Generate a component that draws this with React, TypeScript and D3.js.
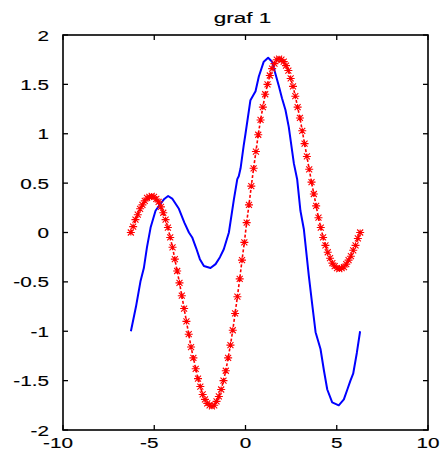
import * as d3 from 'd3';
import { useEffect, useRef } from 'react';

// red series: 100 samples from -2pi to 2pi
const redY = [
  0, 0.06, 0.13, 0.18, 0.24, 0.28, 0.32, 0.35, 0.36, 0.37, 0.36, 0.34, 0.31, 0.26, 0.2, 0.13, 0.05, -0.05, -0.15, -0.27,
  -0.39, -0.51, -0.64, -0.77, -0.9, -1.03, -1.16, -1.27, -1.38, -1.48, -1.56, -1.64, -1.69, -1.73, -1.75, -1.76, -1.75, -1.71, -1.66, -1.59,
  -1.5, -1.4, -1.27, -1.14, -0.99, -0.82, -0.65, -0.47, -0.28, -0.1,
  0.1, 0.28, 0.47, 0.65, 0.82, 0.99, 1.14, 1.27, 1.4, 1.5, 1.59, 1.66, 1.71, 1.75, 1.76, 1.75, 1.73, 1.69, 1.64, 1.56,
  1.48, 1.38, 1.27, 1.16, 1.03, 0.9, 0.77, 0.64, 0.51, 0.39, 0.27, 0.15, 0.05, -0.05, -0.13, -0.2, -0.26, -0.31, -0.34, -0.36,
  -0.37, -0.36, -0.35, -0.32, -0.28, -0.24, -0.18, -0.13, -0.06, 0,
];
const redRange = [-6.2832, 6.2832];

// blue series
const blueX = [
  -6.28, -6.0, -5.75, -5.57, -5.4, -5.2, -4.93, -4.66, -4.45, -4.24, -4.0, -3.65, -3.35, -3.1, -2.92, -2.7, -2.5, -2.28, -1.92, -1.64,
  -1.4, -1.19, -0.91, -0.64, -0.45, -0.37, -0.27, -0.1, 0, 0.27, 0.55, 0.73, 1.0, 1.24, 1.46, 1.65, 1.83, 2.0, 2.19, 2.37,
  2.65, 2.83, 3.01, 3.2, 3.47, 3.65, 3.84, 4.11, 4.3, 4.48, 4.75, 5.11, 5.39, 5.6, 5.75, 5.9, 6.1, 6.28,
];
const blueY = [
  -1.0, -0.75, -0.49, -0.36, -0.15, 0.05, 0.22, 0.29, 0.34, 0.37, 0.34, 0.24, 0.1, 0.0, -0.05, -0.16, -0.27, -0.34, -0.36, -0.32,
  -0.25, -0.17, 0.0, 0.33, 0.54, 0.57, 0.65, 0.88, 1.0, 1.34, 1.43, 1.58, 1.73, 1.77, 1.73, 1.6, 1.48, 1.36, 1.24, 1.07,
  0.7, 0.54, 0.22, 0.03, -0.44, -0.72, -1.01, -1.18, -1.4, -1.59, -1.72, -1.75, -1.69, -1.58, -1.5, -1.43, -1.22, -1.0,
];

const xTicks = [-10, -5, 0, 5, 10];
const yTicks = [-2, -1.5, -1, -0.5, 0, 0.5, 1, 1.5, 2];
const title = 'graf 1';

const W = 444;
const H = 454;
const font = '"Liberation Sans", Arial, sans-serif';
const stretch = 1.38; // the reference text is drawn wide

const App = () => {
  const svgRef = useRef<SVGSVGElement>(null);

  useEffect(() => {
    const svg = d3.select(svgRef.current);
    svg.selectAll('*').remove();

    const left = 63;
    const right = 428;
    const top = 35;
    const bottom = 430;

    const x = d3.scaleLinear([-10, 10], [left, right]);
    const y = d3.scaleLinear([-2, 2], [bottom, top]);
    const idx = d3.scaleLinear([0, redY.length - 1], redRange);

    svg.append('rect').attr('width', W).attr('height', H).attr('fill', '#fff');

    // blue line
    const blueLine = d3
      .line<number>()
      .x((i) => x(blueX[i]))
      .y((i) => y(blueY[i]));
    svg
      .append('path')
      .attr('d', blueLine(d3.range(blueX.length)))
      .attr('fill', 'none')
      .attr('stroke', '#0000ff')
      .attr('stroke-width', 2)
      .attr('stroke-linejoin', 'round');

    // red dashed line with stars
    const redLine = d3
      .line<number>()
      .x((i) => x(idx(i)))
      .y((i) => y(redY[i]));
    svg
      .append('path')
      .attr('d', redLine(d3.range(redY.length)))
      .attr('fill', 'none')
      .attr('stroke', '#ff0000')
      .attr('stroke-width', 1.6)
      .attr('stroke-dasharray', '3,2');

    const star = 'M-4,0H4M0,-3V3M-3,-3L3,3M-3,3L3,-3';
    svg
      .append('g')
      .selectAll('path')
      .data(d3.range(redY.length))
      .join('path')
      .attr('transform', (i) => `translate(${x(idx(i))},${y(redY[i])})`)
      .attr('d', star)
      .attr('fill', 'none')
      .attr('stroke', '#ff0000')
      .attr('stroke-width', 1.1);

    // box
    svg
      .append('rect')
      .attr('x', left)
      .attr('y', top)
      .attr('width', right - left)
      .attr('height', bottom - top)
      .attr('fill', 'none')
      .attr('stroke', '#000')
      .attr('stroke-width', 1.6);

    // ticks inside, all four sides
    const tk = 5;
    const g = svg.append('g').attr('stroke', '#000').attr('stroke-width', 1.3);
    xTicks.forEach((t) => {
      g.append('line').attr('x1', x(t)).attr('x2', x(t)).attr('y1', bottom).attr('y2', bottom - tk);
      g.append('line').attr('x1', x(t)).attr('x2', x(t)).attr('y1', top).attr('y2', top + tk);
    });
    yTicks.forEach((t) => {
      g.append('line').attr('x1', left).attr('x2', left + tk).attr('y1', y(t)).attr('y2', y(t));
      g.append('line').attr('x1', right).attr('x2', right - tk).attr('y1', y(t)).attr('y2', y(t));
    });

    const label = (sel: any) =>
      sel
        .attr('font-family', font)
        .attr('font-size', 15)
        .attr('fill', '#000')
        .attr('stroke', '#000')
        .attr('stroke-width', 0.15);

    // x labels: the digits sit centred on the tick, a minus hangs to the left
    svg
      .append('g')
      .selectAll('text')
      .data(xTicks)
      .join('text')
      .attr('transform', (d) => `translate(${x(d) - (d < 0 ? 5 : 0)},${bottom + 18}) scale(${stretch},1)`)
      .attr('text-anchor', 'middle')
      .call(label)
      .text((d) => String(d));

    svg
      .append('g')
      .selectAll('text')
      .data(yTicks)
      .join('text')
      .attr('transform', (d) => `translate(${left - 14},${y(d) + 5.5}) scale(${stretch},1)`)
      .attr('text-anchor', 'end')
      .call(label)
      .text((d) => String(d));

    svg
      .append('text')
      .attr('transform', `translate(${(left + right) / 2 - 3},23) scale(1.5,1)`)
      .attr('text-anchor', 'middle')
      .call(label)
      .text(title);
  }, []);

  return (
    <svg
      ref={svgRef}
      width={W}
      height={H}
      style={{ position: 'absolute', left: 0, top: 0, display: 'block' }}
    />
  );
};

export default App;
